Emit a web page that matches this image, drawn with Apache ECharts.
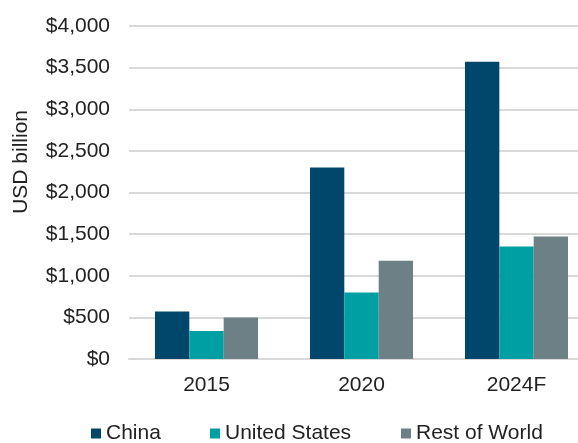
<!DOCTYPE html>
<html>
<head>
<meta charset="utf-8">
<script src="https://cdn.jsdelivr.net/npm/echarts@6/dist/echarts.min.js"></script>
<style>html,body{margin:0;padding:0;background:#fff;}#c{width:578px;height:443px;}</style>
</head>
<body>
<div id="c"></div>
<script>
const categories = ['2015', '2020', '2024F'];
const china = [570, 2300, 3570];
const unitedStates = [336, 800, 1350];
const restOfWorld = [500, 1180, 1470];
const yTicks = [0, 500, 1000, 1500, 2000, 2500, 3000, 3500, 4000];

const FONT = 'Liberation Sans, Arial, sans-serif';
const TXT = '#222222';
const colors = ['#00476B', '#009FA3', '#6D8085'];
const names = ['China', 'United States', 'Rest of World'];
const legendLeft = [91, 210, 401];

const chart = echarts.init(document.getElementById('c'), null, {renderer: 'canvas'});
const fmt = v => '$' + v.toLocaleString('en-US');

chart.setOption({
  animation: false,
  backgroundColor: '#fff',
  textStyle: {fontFamily: FONT},
  grid: {left: 129, width: 465, top: 26, height: 333, containLabel: false, outerBoundsMode: 'none'},
  legend: names.map((n, i) => ({
    data: [n],
    left: legendLeft[i],
    top: 423,
    itemWidth: 10,
    itemHeight: 10,
    itemGap: 5,
    padding: 0,
    icon: 'rect',
    textStyle: {fontFamily: FONT, fontSize: 21, color: TXT, padding: [0, 0, 0, 0]}
  })),
  graphic: [{
    type: 'text',
    left: 11,
    top: 110,
    rotation: Math.PI / 2,
    style: {text: 'USD billion', font: '21px ' + FONT, fill: TXT}
  }],
  xAxis: {
    type: 'category',
    data: categories,
    axisLine: {show: true, lineStyle: {color: '#D9D9D9', width: 2}},
    axisTick: {show: false},
    axisLabel: {fontFamily: FONT, fontSize: 21, color: TXT, margin: 16}
  },
  yAxis: {
    type: 'value',
    min: yTicks[0],
    max: yTicks[yTicks.length - 1],
    interval: yTicks[1] - yTicks[0],
    axisLine: {show: false},
    axisTick: {show: false},
    splitLine: {lineStyle: {color: '#D9D9D9', width: 2}},
    axisLabel: {fontFamily: FONT, fontSize: 21, color: TXT, margin: 19, formatter: fmt}
  },
  series: [china, unitedStates, restOfWorld].map((d, i) => ({
    name: names[i],
    type: 'bar',
    data: d,
    barGap: '0%',
    barCategoryGap: '33.5%',
    itemStyle: {color: colors[i]}
  }))
});
</script>
</body>
</html>
